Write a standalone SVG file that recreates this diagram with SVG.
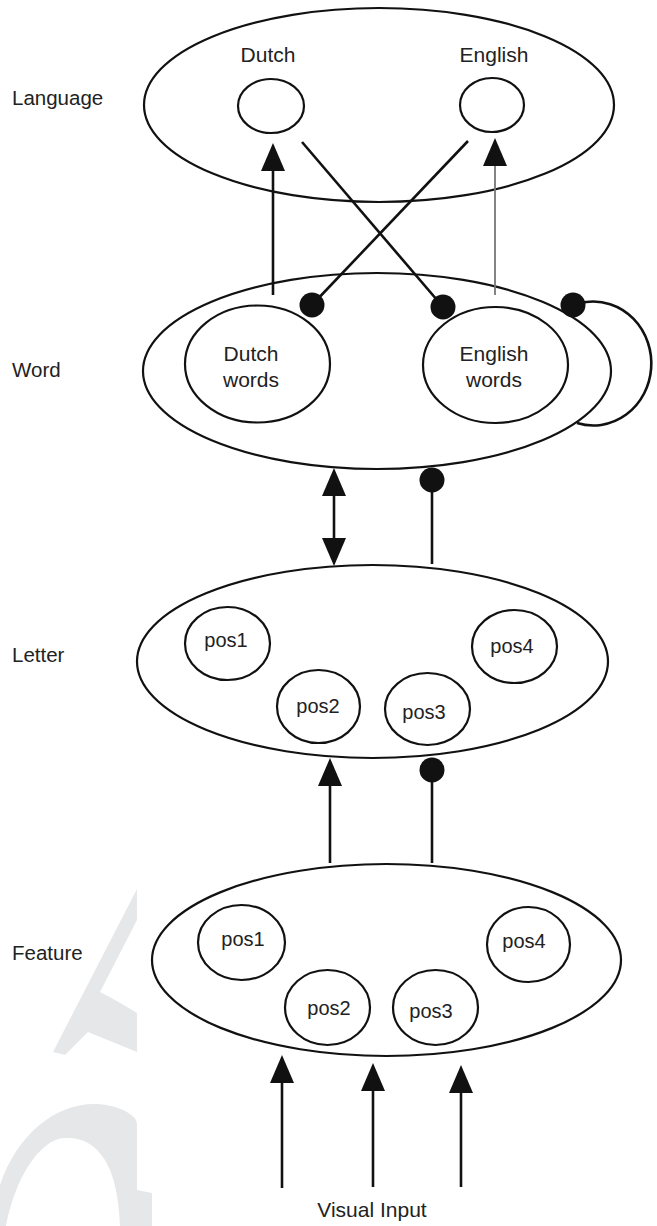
<svg xmlns="http://www.w3.org/2000/svg" width="657" height="1226" viewBox="0 0 657 1226">
  <style>
    text { font-family: "Liberation Sans", Arial, Helvetica, sans-serif; fill: #222; }
    .lbl { font-size: 20.5px; }
    .name { font-size: 21px; text-anchor: middle; }
    .pos { font-size: 20px; text-anchor: middle; }
    .layer, .unit { fill: none; stroke: #111; stroke-width: 2.2; }
    .link { fill: none; stroke: #111; stroke-width: 2.6; }
    .link.soft { stroke: #777; stroke-width: 1.8; }
    .wm { fill: #e6e7e8; }
  </style>
  <defs>
    <marker id="head" viewBox="0 0 28 24" refX="24" refY="12" markerWidth="28" markerHeight="24" markerUnits="userSpaceOnUse" orient="auto-start-reverse">
      <path d="M0,0 L28,12 L0,24 Z" fill="#111"/>
    </marker>
    <marker id="dot" viewBox="0 0 26 26" refX="13" refY="13" markerWidth="26" markerHeight="26" markerUnits="userSpaceOnUse">
      <circle cx="13" cy="13" r="12.5" fill="#111"/>
    </marker>
  </defs>

  <rect width="657" height="1226" fill="#fff"/>

  <!-- faint background mark, lower left -->
  <g id="watermark">
    <path class="wm" d="M53,1052 L137,889 L137,920 L100,992 Q116,1000 137,1013 L137,1052 L88,1032 L65,1055 Z"/>
    <path class="wm" fill-rule="evenodd" d="M0,1185 C18,1132 58,1102 98,1104 C122,1106 137,1116 137,1124 L137,1190 L152,1193 L152,1226 L0,1226 Z M6,1226 C14,1182 38,1140 64,1138 C96,1136 118,1162 120,1226 Z"/>
  </g>

  <!-- side labels -->
  <g id="labels">
    <text class="lbl" x="12" y="105">Language</text>
    <text class="lbl" x="12" y="377">Word</text>
    <text class="lbl" x="12" y="662">Letter</text>
    <text class="lbl" x="12" y="960">Feature</text>
    <text class="name" x="372" y="1217">Visual Input</text>
  </g>

  <g id="language-layer">
    <ellipse class="layer" cx="379" cy="105" rx="235" ry="97"/>
    <g id="lang-dutch">
      <ellipse class="unit" cx="271" cy="106" rx="33" ry="27"/>
      <text class="name" x="268" y="62">Dutch</text>
    </g>
    <g id="lang-english">
      <ellipse class="unit" cx="492" cy="105" rx="32" ry="27"/>
      <text class="name" x="494" y="62">English</text>
    </g>
  </g>

  <g id="word-layer">
    <ellipse class="layer" cx="377" cy="371" rx="234" ry="98"/>
    <g id="dutch-words">
      <ellipse class="unit" cx="257.5" cy="364" rx="72.5" ry="58.5"/>
      <text class="name" x="251" y="361">Dutch</text>
      <text class="name" x="251" y="387">words</text>
    </g>
    <g id="english-words">
      <ellipse class="unit" cx="495.5" cy="365" rx="72.5" ry="58"/>
      <text class="name" x="494" y="361">English</text>
      <text class="name" x="494" y="387">words</text>
    </g>
  </g>

  <g id="letter-layer">
    <ellipse class="layer" cx="372.5" cy="661.5" rx="235.5" ry="96.5"/>
    <g id="letter-pos1"><ellipse class="unit" cx="227.5" cy="643.5" rx="42.5" ry="36.5"/><text class="pos" x="226" y="647">pos1</text></g>
    <g id="letter-pos2"><ellipse class="unit" cx="318.5" cy="706.5" rx="41.5" ry="36.5"/><text class="pos" x="318" y="713">pos2</text></g>
    <g id="letter-pos3"><ellipse class="unit" cx="427.5" cy="709" rx="42.5" ry="36"/><text class="pos" x="424" y="719">pos3</text></g>
    <g id="letter-pos4"><ellipse class="unit" cx="514.5" cy="646.5" rx="42.5" ry="36.5"/><text class="pos" x="512" y="653">pos4</text></g>
  </g>

  <g id="feature-layer">
    <ellipse class="layer" cx="386.5" cy="960" rx="234.5" ry="96"/>
    <g id="feature-pos1"><ellipse class="unit" cx="241.5" cy="942.5" rx="43.5" ry="37.5"/><text class="pos" x="243" y="946">pos1</text></g>
    <g id="feature-pos2"><ellipse class="unit" cx="327.5" cy="1007.5" rx="42.5" ry="37.5"/><text class="pos" x="329" y="1015">pos2</text></g>
    <g id="feature-pos3"><ellipse class="unit" cx="435.5" cy="1007.5" rx="42.5" ry="37.5"/><text class="pos" x="431" y="1018">pos3</text></g>
    <g id="feature-pos4"><ellipse class="unit" cx="528.5" cy="944.5" rx="41.5" ry="37.5"/><text class="pos" x="524" y="948">pos4</text></g>
  </g>

  <g id="connectors">
    <!-- word to language -->
    <line class="link" x1="273" y1="295" x2="273" y2="147" marker-end="url(#head)"/>
    <line class="link soft" x1="495" y1="295" x2="495" y2="142" marker-end="url(#head)"/>
    <!-- language inhibits the other language's words -->
    <line class="link" x1="302" y1="142" x2="443" y2="307" marker-end="url(#dot)"/>
    <line class="link" x1="468" y1="141" x2="312" y2="305" marker-end="url(#dot)"/>
    <!-- word-level lateral inhibition -->
    <path class="link" d="M573,305 L586,302 A58 62 0 1 1 577,423" marker-start="url(#dot)"/>
    <!-- letter and word -->
    <line class="link" x1="334" y1="472" x2="334" y2="562" marker-start="url(#head)" marker-end="url(#head)"/>
    <line class="link" x1="432" y1="564" x2="432" y2="480" marker-end="url(#dot)"/>
    <!-- feature to letter -->
    <line class="link" x1="330" y1="863" x2="330" y2="762" marker-end="url(#head)"/>
    <line class="link" x1="432" y1="863" x2="432" y2="770" marker-end="url(#dot)"/>
    <!-- visual input -->
    <line class="link" x1="282" y1="1188" x2="282" y2="1059" marker-end="url(#head)"/>
    <line class="link" x1="373" y1="1187" x2="373" y2="1067" marker-end="url(#head)"/>
    <line class="link" x1="461" y1="1187" x2="461" y2="1069" marker-end="url(#head)"/>
  </g>
</svg>
